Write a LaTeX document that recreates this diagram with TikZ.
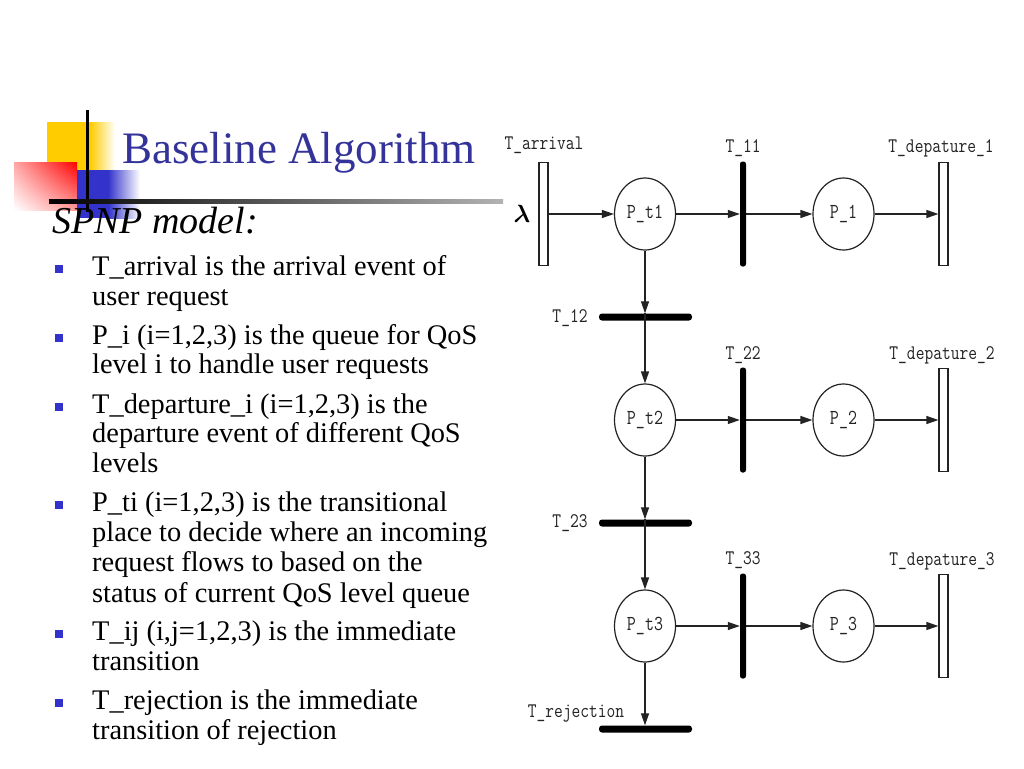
\documentclass[tikz,border=0pt]{standalone}
\usepackage{fontspec}
\usepackage{graphicx}
\setmainfont{Liberation Serif}
\usetikzlibrary{shapes.geometric,arrows.meta,shadings}
\definecolor{titleblue}{RGB}{51,51,153}
\definecolor{bulletblue}{RGB}{51,51,204}
\definecolor{decoyellow}{RGB}{255,204,0}
\definecolor{netgray}{RGB}{35,35,35}
\newcommand{\netstr}[1]{\scalebox{1}[1.22]{#1}}
\begin{document}
\begin{tikzpicture}[x=1pt,y=-1pt,
  place/.style={ellipse, draw=netgray, line width=1.2pt, minimum width=61pt, minimum height=72pt, inner sep=0pt, font=\ttfamily\fontsize{17.5}{17.5}\selectfont, text=netgray},
  timedtr/.style={rectangle, draw=netgray, line width=1.2pt, minimum width=9pt, minimum height=103pt, inner sep=0pt},
  immv/.style={rectangle, fill=black, rounded corners=2.5pt, minimum width=6pt, minimum height=105pt, inner sep=0pt},
  immh/.style={rectangle, fill=black, rounded corners=3pt, minimum width=93pt, minimum height=7pt, inner sep=0pt},
  lbl/.style={font=\ttfamily\fontsize{17}{17}\selectfont, text=netgray, inner sep=0pt},
  arc/.style={draw=netgray, line width=1.2pt, -{Triangle[length=12pt,width=8pt]}},
  txt/.style={anchor=base west, inner sep=0pt, font=\fontsize{28.4}{30}\selectfont},
  bul/.style={fill=bulletblue}
]
\useasboundingbox (0,0) rectangle (1024,768);
\fill[white] (0,0) rectangle (1024,768);
% decoration
\fill[decoyellow] (47,122) rectangle (90,172);
\shade[left color=decoyellow, right color=white] (90,122) rectangle (115,172);
\shade[upper left=red!35, upper right=red, lower left=white, lower right=red!40] (14,162) rectangle (77,210);
\fill[bulletblue] (77,170) rectangle (108,218);
\shade[left color=bulletblue, right color=white] (108,170) rectangle (140,218);
\draw[line width=3pt] (87,110) -- (87,212);
\shade[left color=black, right color=black!30] (49,199) rectangle (503,203);
% title
\node[anchor=base west, inner sep=0pt, text=titleblue, font=\fontsize{45}{54}\selectfont] (title) at (122,163) {Baseline Algorithm};
\node[anchor=base west, inner sep=0pt, font=\itshape\fontsize{38}{40}\selectfont] (sub) at (52,233) {SPNP model:};
% bullets
\foreach \b in {275,344,413,511,640,709} {\fill[bul] (55,\b-10) rectangle (63,\b-2);}
\node[txt] (l1a) at (92,275) {T\_arrival is the arrival event of};
\node[txt] (l1b) at (92,305) {user request};
\node[txt] (l2a) at (92,344) {P\_i (i=1,2,3) is the queue for QoS};
\node[txt] (l2b) at (92,373) {level i to handle user requests};
\node[txt] (l3a) at (92,413) {T\_departure\_i (i=1,2,3) is the};
\node[txt] (l3b) at (92,442) {departure event of different QoS};
\node[txt] (l3c) at (92,472) {levels};
\node[txt] (l4a) at (92,511) {P\_ti (i=1,2,3) is the transitional};
\node[txt] (l4b) at (92,541) {place to decide where an incoming};
\node[txt] (l4c) at (92,571) {request flows to based on the};
\node[txt] (l4d) at (92,602) {status of current QoS level queue};
\node[txt] (l5a) at (92,640) {T\_ij (i,j=1,2,3) is the immediate};
\node[txt] (l5b) at (92,670) {transition};
\node[txt] (l6a) at (92,709) {T\_rejection is the immediate};
\node[txt] (l6b) at (92,739) {transition of rejection};
% Petri net
\node[timedtr] (Tarr) at (543.5,214) {};
\node[place] (Pt1) at (645,214) {\netstr{P\_t1}};
\node[immv] (T11) at (743,214) {};
\node[place] (P1) at (843.5,214) {\netstr{P\_1}};
\node[timedtr] (Td1) at (943.5,214) {};
\node[immh] (T12) at (645.5,317) {};
\node[place] (Pt2) at (645,420) {\netstr{P\_t2}};
\node[immv] (T22) at (743,420) {};
\node[place] (P2) at (843.5,420) {\netstr{P\_2}};
\node[timedtr] (Td2) at (943.5,420) {};
\node[immh] (T23) at (645.5,523) {};
\node[place] (Pt3) at (645,626) {\netstr{P\_t3}};
\node[immv] (T33) at (743,626) {};
\node[place] (P3) at (843.5,626) {\netstr{P\_3}};
\node[timedtr] (Td3) at (943.5,626) {};
\node[immh] (Trej) at (645.5,729) {};
% labels
\node[inner sep=0pt, font=\boldmath\fontsize{38}{38}\selectfont] (lam) at (522,214) {$\lambda$};
\node[lbl] (lTarr) at (544,145) {\netstr{T\_arrival}};
\node[lbl] (lT11) at (743,148) {\netstr{T\_11}};
\node[lbl] (lTd1) at (941,148) {\netstr{T\_depature\_1}};
\node[lbl] (lT12) at (570,318) {\netstr{T\_12}};
\node[lbl] (lT22) at (743,355) {\netstr{T\_22}};
\node[lbl] (lTd2) at (942,355) {\netstr{T\_depature\_2}};
\node[lbl] (lT23) at (570,523) {\netstr{T\_23}};
\node[lbl] (lT33) at (743,560) {\netstr{T\_33}};
\node[lbl] (lTd3) at (942,561) {\netstr{T\_depature\_3}};
\node[lbl] (lTrej) at (576,714) {\netstr{T\_rejection}};
% arcs
\draw[arc] (Tarr) -- (Pt1);
\draw[arc] (Pt1) -- (T11);
\draw[arc] (T11) -- (P1);
\draw[arc] (P1) -- (Td1);
\draw[arc] (Pt1) -- (T12.north -| Pt1.south);
\draw[arc] (T12.north -| Pt1.south) -- (Pt2);
\draw[arc] (Pt2) -- (T22);
\draw[arc] (T22) -- (P2);
\draw[arc] (P2) -- (Td2);
\draw[arc] (Pt2) -- (T23.north -| Pt2.south);
\draw[arc] (T23.north -| Pt2.south) -- (Pt3);
\draw[arc] (Pt3) -- (T33);
\draw[arc] (T33) -- (P3);
\draw[arc] (P3) -- (Td3);
\draw[arc] (Pt3) -- (Trej.north -| Pt3.south);
\end{tikzpicture}
\end{document}
